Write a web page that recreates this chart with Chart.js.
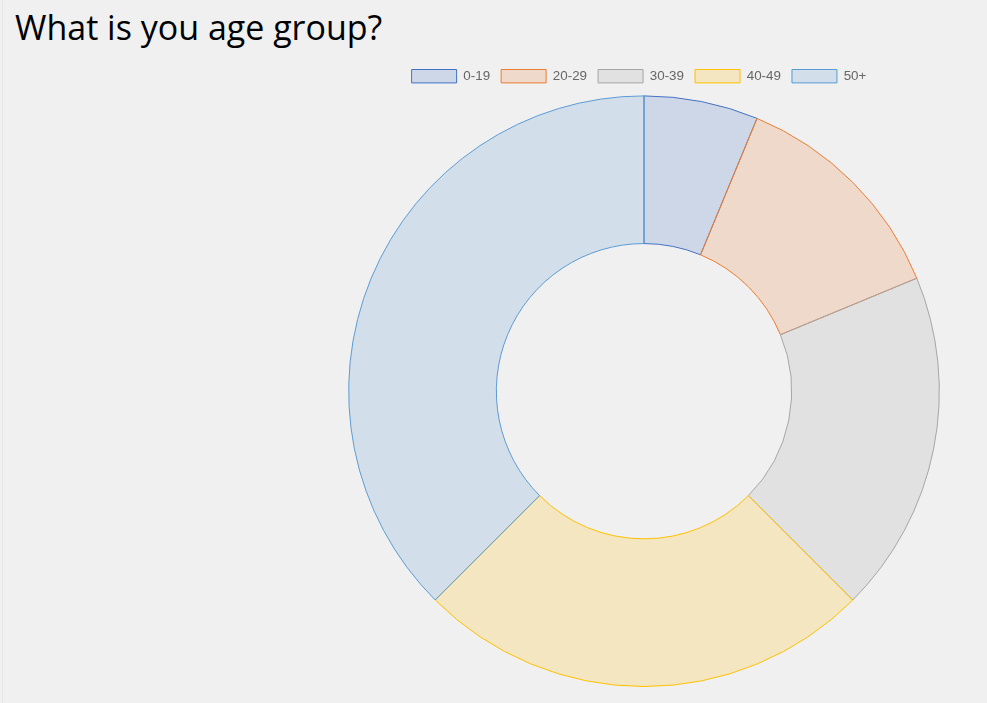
<!DOCTYPE html>
<html>
<head>
<meta charset="utf-8">
<script src="https://cdn.jsdelivr.net/npm/chart.js@4/dist/chart.umd.min.js"></script>
<style>
body{margin:0;background:#f0f0f0;width:987px;height:703px;overflow:hidden;position:relative;font-family:"Open Sans",sans-serif}
#borda{position:absolute;left:2px;top:0;width:1px;height:703px;background:#e6e6e6}
h1{position:absolute;left:15px;top:0;margin:0;font-weight:400;font-size:34px;line-height:54px;color:#000}
#caixa{position:absolute;left:301px;top:61px;width:686px;height:626px}
</style>
</head>
<body>
<div id="borda"></div>
<h1>What is you age group?</h1>
<div id="caixa"><canvas id="grafico"></canvas></div>
<script>
// faixas de idade e quantidade de respostas
let faixas = ['0-19', '20-29', '30-39', '40-49', '50+'];
let respostas = [1, 2, 3, 4, 6];
let bordas = ['#4472C4', '#ED7D31', '#A5A5A5', '#FFC000', '#5B9BD5'];
let fundos = ['rgba(68,114,196,0.2)', 'rgba(237,125,49,0.2)', 'rgba(165,165,165,0.2)', 'rgba(255,192,0,0.2)', 'rgba(91,155,213,0.2)'];

Chart.defaults.font.family = "'Liberation Sans', Arial, sans-serif";
Chart.defaults.color = '#666';

// a legenda do original fica um pouco mais para a esquerda e para cima
const moveLegenda = {
    id: 'moveLegenda',
    afterLayout(chart) {
        chart.legend.left -= 5;
        chart.legend.right -= 5;
        chart.legend.top -= 2.5;
        chart.legend.bottom -= 2.5;
    }
};

const ctx = document.getElementById('grafico').getContext('2d');
const graficoidade = new Chart(ctx, {
    type: 'doughnut',
    data: {
        labels: faixas,
        datasets: [{
            data: respostas,
            backgroundColor: fundos,
            borderColor: bordas,
            borderWidth: 1
        }]
    },
    options: {
        responsive: true,
        maintainAspectRatio: false,
        animation: false,
        cutout: '50%',
        plugins: {
            legend: {
                position: 'top',
                labels: { font: { size: 13.4 }, boxWidth: 45, padding: 11 }
            },
            tooltip: { enabled: false }
        }
    },
    plugins: [moveLegenda]
});
</script>
</body>
</html>
